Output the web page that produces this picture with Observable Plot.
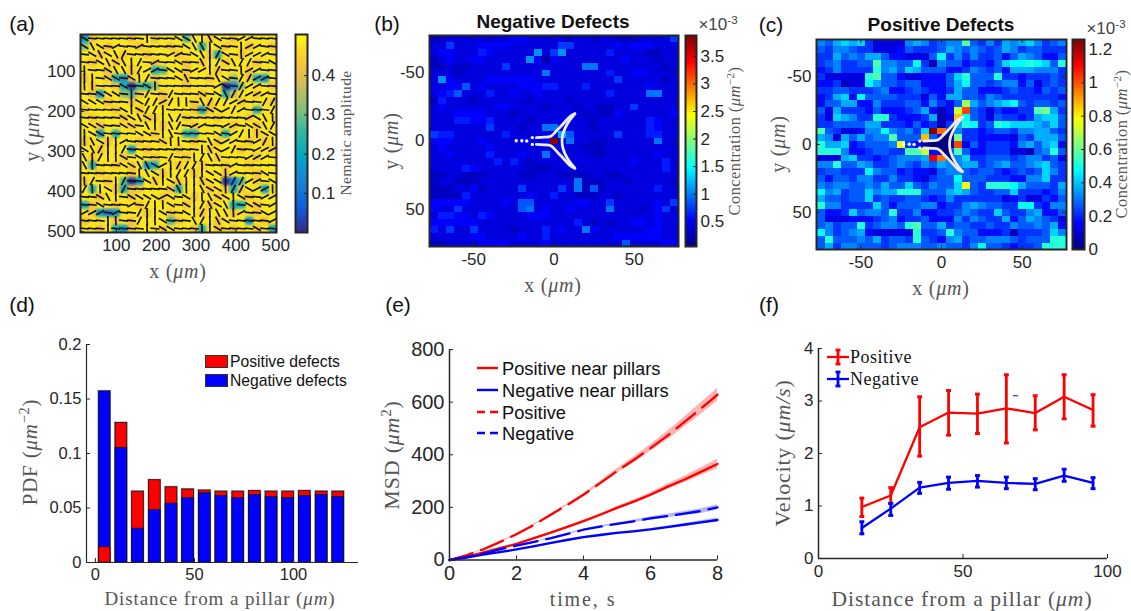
<!DOCTYPE html>
<html><head><meta charset="utf-8">
<script src="https://cdn.jsdelivr.net/npm/d3@7"></script>
<script src="https://cdn.jsdelivr.net/npm/@observablehq/plot@0.6"></script>
<style>
html,body{margin:0;background:#fff}
#page{position:relative;width:1131px;height:611px;overflow:hidden;font-family:"Liberation Sans",Arial,sans-serif}
#page svg{position:absolute;overflow:visible;background:transparent;max-width:none}
.t{position:absolute;white-space:nowrap;line-height:.8;transform:translate(-50%,-50%)}
.t.v{transform:translate(-50%,-50%) rotate(-90deg)}
.s{font-family:"Liberation Serif",serif;color:#555}
.t sup{font-size:.68em;line-height:0}
.k{position:absolute;white-space:nowrap;line-height:1;color:#111}
</style></head><body><div id="page"></div>
<script>
// ---------- panel (a): nematic amplitude (digit d -> 0.02 + 0.051 d) ----------
const ampRows = [
"38999 98998 99959 98998 99999","69989 99899 98999 49989 98998","99899 89989 99899 98499 89999",
"98998 99998 99989 89989 99899","99989 98994 59989 99899 98999","89984 38998 99989 98996 98439",
"98998 40546 99989 99902 69998","98399 65899 89999 89947 99899","99989 98999 89998 98999 89998",
"89998 99899 99998 38999 99499","98999 89988 99989 99899 98999","99899 98999 89998 99998 99899",
"99394 99998 99944 99949 99899","89989 99899 89998 99899 98989","99899 93989 99899 98999 89998",
"98999 89998 99989 99899 99899","94998 98934 99899 89989 98999","99899 98999 89998 99989 99899",
"89989 50398 99899 89902 59899","94998 48899 98499 98984 89939","99899 98999 89998 99899 98999",
"48998 99899 99989 98994 49899","98323 99989 98999 89998 99899","89998 98999 95899 99899 93989",
"99894 38999 89998 49898 99894"];
// director orientation: h flat, d down-right, s steep down-right, v vertical, u steep up-right, r up-right
const dirRows = [
"dhhhhhhhvhhhddsvsdhhrrhhh","dsdhrhhrhhhhhdssvdhhvrrhh","hdsdsuhhhhhrrhdsvudhvrrrh","hhdsdsvuhrhhdhhsvudsuuhhd",
"vhhdssvurrhddhrrvuhhvrrhh","vvhddhdvuhhhdshhhsdhuurrh","vvhhhdhhdvhhhhhhhrdhurrhh","hhdddhvhuhhuhhhdhdsuurrrh",
"dddhhhvduuruvvhsuuurrhhuu","hhhhhdvduuvhhhhhddrurhhhu","hhhhhddsdvvsuhhhhhhhhrdsv","dddhhddhsvvsuhrrhhrrhddsu",
"vddhhhhddhvshhhhhdhruvvdd","vsdvvrhhhhdvvhhhsdrrhhruv","dsuvvuhhhhhhhhhvsdruhhrrr","svuvvdhdhhhuhhvusshhhrrrh",
"svhhhddssdrvuuuvhhhrhhhhh","hhhhhhhvsdvvuuvvddvrhhhdh","vuhhvuhhdsvdsvvsddvuurrhd","uvvdvuhhhhhdsvvsddvuudrrv",
"hhdsvhddddrdhdvvsddvdhhrr","hhdhhhrhuvvdhdvusdsvhddhr","rrrhrhhuvvdhhdvuvssvrhhdr","hhhvvhhuvvdhhhsuvsdhhhhhr",
"hhhvhhhhvhddhhhvvdhhhhdhh"];
const dirAngle = {h:6,d:30,s:62,v:88,u:118,r:152};
const aDomainX=[10,502], aDomainY=[8,502];
// ---------- panel (b) negative defects, base-36 char * 0.11 + 0.08 (x 1e-3 um^-2) ----------
const negRows = [
"22333 33233 44333 33233 23322 23333 6","33633 34444 33333 36633 33343 44433 3","34433 35433 33393 69333 33533 33223 3",
"23433 44333 33941 43333 33334 33323 3","22322 33336 33333 33338 83333 33332 3","33323 33333 33338 33333 33533 44333 3",
"39433 33444 44433 33333 33363 33332 3","33447 34333 34445 53335 33333 33433 3","34573 33533 43343 33333 33533 33883 3",
"25333 23333 33233 33233 33333 33333 3","34333 33344 33332 33323 32233 63333 3","33344 44333 23333 33332 32243 33333 4",
"33355 44533 33233 33333 23333 33543 3","33333 33633 32338 83333 23333 33543 3","65533 33335 33333 3a733 33363 33553 3",
"44433 34333 33444 z3833 22333 33383 3","34333 33433 33333 33332 22333 33333 3","33433 33533 34338 33333 22333 33343 3",
"33333 33353 53233 33333 33333 43335 3","33335 43333 33222 33333 33333 33335 3","22332 22333 32233 32222 33223 33333 3",
"23322 23333 33333 33382 22332 33333 2","22233 42333 36333 36382 72333 33353 3","22225 33333 33433 53322 23323 33333 3",
"44444 33334 37733 33344 33633 33343 6","43363 33333 37834 33433 33833 32346 3","35544 35433 33444 33333 33333 33343 3",
"44444 43333 33333 33353 23233 44343 3","53633 63333 23335 34338 43333 33443 3","33333 44333 34335 33333 33344 44443 3",
"22333 34444 33334 33333 33337 33334 4"];
// ---------- panel (c) positive defects, base-36 char * 0.05 + 0.02 (x 1e-3 um^-2) ----------
const posRows = [
"65787 84222 26764 566b5 46476 78645 6","54665 44222 35444 57656 54576 45544 4","44756 57753 32225 94646 44535 76533 5",
"45644 55b66 55941 65534 43589 9a985 a","34644 44a67 58755 53346 54537 77666 4","42222 2ab55 32233 358a5 55a44 34445 4",
"33412 29755 45533 35795 54566 35245 4","44554 44563 34543 34755 33345 44354 5","34783 95555 44425 37755 46544 44444 3",
"35577 33644 45536 435d7 56789 54554 5","52744 43533 34573 13ek5 42433 44bc7 4","42876 44aa4 33347 12h95 42544 34788 5",
"44555 57744 43534 147a9 45a98 88768 5","b5422 36696 5648p j5644 34554 66775 4","76275 7566b 555h5 31c44 33332 54777 5",
"a7783 45556 f4322 21k25 34443 67578 3","aaa63 34554 4bbe3 35b53 34442 2156a 5","22278 44345 6667m j6684 45554 56645 2",
"66a55 76445 65465 76677 45675 56785 4","45544 49655 34332 56654 55434 54586 4","53554 66446 44324 55955 54443 36684 4",
"65665 56575 58546 558f5 4aaa9 75554 7","96745 58677 aaa55 57875 44558 44434 6","75545 58454 45543 46444 44423 42243 5",
"a6644 44853 55566 34467 65544 99436 6","53348 5665a 44633 44565 44854 46733 5","52223 33456 34453 33646 54473 57654 2",
"56455 a4566 5ab55 74554 45446 55657 3","96456 73222 22a44 5a655 33341 44458 6","5a555 65745 54a54 36745 56665 4555a a",
"57466 55545 66655 65546 95543 445aa a"];
// pillar outline (um)
const armUpX=[-11,-6,-2,2,6,10.5,13], armUpY=[-2.5,-2.8,-3.5,-8,-13,-18.5,-20];
const armLoX=[-11,-6,-2,2,6,10.5,13], armLoY=[2.5,2.8,3.5,8,13,18.5,20];
const armRiX=[13,8.5,5.5,5,5.5,8.5,13], armRiY=[-20,-13,-5,0,5,13,20];
const dotX=[-23.5,-20,-17,-13.5,-13.5], dotY=[-0.2,-0.2,0,-2.5,2.5];
// ---------- panel (d) ----------
const binCenters=[4.7,13.1,21.5,30,38.4,46.8,55.2,63.6,72.1,80.5,88.9,97.3,105.7,114.2,122.6];
const pdfNeg=[.157,.105,.031,.048,.054,.059,.0635,.061,.059,.062,.060,.059,.061,.062,.060];
const pdfPos=[.014,.128,.065,.0755,.069,.067,.066,.065,.065,.0655,.065,.065,.0655,.065,.065];
// ---------- panel (e) ----------
const tMSD=[0,.5,1,1.5,2,2.5,3,3.5,4,4.5,5,5.5,6,6.5,7,7.5,8];
const msdPos=[0,18,40,68,98,132,170,208,248,292,338,380,425,472,523,575,628];
const msdPosNear=[0,12,28,45,61,82,103,125,148,172,198,222,248,278,305,335,365];
const msdNeg=[0,11,24,40,55,68,82,98,115,127,137,147,158,167,176,186,200];
const msdNegNear=[0,9,20,30,40,52,64,76,87,95,103,109,116,125,134,143,152];
const errPos=[0,1,2,2,3,3,4,4,5,7,9,11,13,16,19,22,25];
const errPosNear=[0,1,1,1,2,2,2,3,3,4,5,6,8,10,12,15,18];
const errNeg=[0,1,1,1,2,2,2,3,3,3,4,5,6,7,8,9,10];
const errNegNear=[0,1,1,1,1,1,2,2,2,3,3,3,4,4,5,6,8];
// ---------- panel (f) ----------
const dVel=[15,25,35,45,55,65,75,85,95];
const velPos=[.98,1.2,2.5,2.78,2.76,2.86,2.77,3.08,2.83];
const velPosLo=[.8,1.05,1.95,2.35,2.38,2.2,2.45,2.66,2.52];
const velPosHi=[1.15,1.35,3.08,3.2,3.13,3.5,3.1,3.5,3.12];
const velNeg=[.58,.95,1.35,1.44,1.48,1.44,1.42,1.58,1.44];
const velNegLo=[.47,.82,1.24,1.32,1.36,1.33,1.31,1.47,1.33];
const velNegHi=[.7,1.05,1.45,1.55,1.58,1.55,1.52,1.7,1.54];

// ---------- colour maps ----------
const parula=["#352a87","#0f5cdd","#1481d6","#06a4ca","#2eb7a4","#87bf77","#d1bb59","#fec832","#f9fb0e"];
const jetPos=[0,.125,.375,.625,.875,1], jetCol=["#000080","#0000ff","#00ffff","#ffff00","#ff0000","#800000"];
const dark="#262626";
const page=document.getElementById("page");
const flat=(rows,f)=>rows.flatMap(r=>[...r.replace(/ /g,"")].map(f));
const cs=(lo,hi,pos,col)=>({type:"linear",domain:pos.map(p=>lo+(hi-lo)*p),range:col,clamp:true});
const parulaPos=parula.map((_,i)=>i/(parula.length-1));

function panel(box,opt,marks){
  const m={l:62,r:62,t:12,b:30};
  const svg=Plot.plot({width:box.r-box.l+m.l+m.r,height:box.b-box.t+m.t+m.b,
    marginLeft:m.l,marginRight:m.r,marginTop:m.t,marginBottom:m.b,
    style:{fontFamily:'"Liberation Sans",Arial,sans-serif',background:"transparent",overflow:"visible"},
    ...opt,marks});
  svg.style.left=(box.l-m.l)+"px"; svg.style.top=(box.t-m.t)+"px";
  page.appendChild(svg);
}
function axX(ticks,fs,pad,h,w=1,both=false,fmt=String){
  return [Plot.axisX(ticks,{anchor:"bottom",tickSize:0,tickPadding:pad,fontSize:fs,color:dark,label:null,tickFormat:fmt}),
    Plot.tickX(ticks,{x:d=>d,insetTop:h-4,stroke:dark,strokeWidth:w}),
    ...(both?[Plot.tickX(ticks,{x:d=>d,insetBottom:h-4,stroke:dark,strokeWidth:w})]:[])];
}
function axY(ticks,fs,pad,w0,w=1,both=false,anchor="left"){
  return [Plot.axisY(ticks,{anchor,tickSize:0,tickPadding:pad,fontSize:fs,color:dark,label:null,tickFormat:String}),
    ...(anchor==="left"?[Plot.tickY(ticks,{y:d=>d,insetRight:w0-4,stroke:dark,strokeWidth:w})]:[Plot.tickY(ticks,{y:d=>d,insetLeft:w0-3,stroke:dark,strokeWidth:w})]),
    ...(both?[Plot.tickY(ticks,{y:d=>d,insetLeft:w0-4,stroke:dark,strokeWidth:w})]:[])];
}
function txt(html,x,y,o={}){
  const e=document.createElement("div");
  e.className="t"+(o.v?" v":"")+(o.serif?" s":"");
  e.innerHTML=html;e.style.left=x+"px";e.style.top=y+"px";e.style.fontSize=o.size+"px";
  if(o.ls)e.style.letterSpacing=o.ls+"px";
  if(o.bold)e.style.fontWeight="bold";
  if(o.color)e.style.color=o.color;
  page.appendChild(e);
}
function colorbar(box,dom,color,ticks,fs){
  panel(box,{x:{domain:[0,1],axis:null},y:{domain:dom},color},[
    Plot.raster({x1:0,x2:1,y1:dom[0],y2:dom[1],fill:(x,y)=>y,pixelSize:1}),
    Plot.frame({stroke:dark,strokeWidth:2}),
    ...axY(ticks,fs,4,box.r-box.l,1,false,"right")
  ]);
}

// (a)
const aBox={l:80,r:276,t:34,b:232};
const cw=(aDomainX[1]-aDomainX[0])/25, ch=(aDomainY[1]-aDomainY[0])/25, half=11.5;
const segs=dirRows.flatMap((row,r)=>[...row].map((c,k)=>{
  const a=dirAngle[c]*Math.PI/180, cx=aDomainX[0]+(k+.5)*cw, cy=aDomainY[0]+(r+.5)*ch;
  return {x1:cx-half*Math.cos(a),x2:cx+half*Math.cos(a),y1:cy-half*Math.sin(a),y2:cy+half*Math.sin(a)};
}));
const aColor=cs(0,.505,parulaPos,parula);
// each estimated cell is drawn as 2x2 raster pixels so that low-amplitude spots stay small when smoothed
const ampDoubled=ampRows.flatMap(r=>{const s=[...r.replace(/ /g,"")].flatMap(c=>[c,c]).join("");return [s,s];});
panel(aBox,{x:{domain:aDomainX},y:{domain:aDomainY,reverse:true},color:aColor},[
  Plot.raster(flat(ampDoubled,c=>.02+.051*+c),{width:50,height:50,x1:aDomainX[0],x2:aDomainX[1],y1:aDomainY[0],y2:aDomainY[1]}),
  Plot.link(segs,{x1:"x1",x2:"x2",y1:"y1",y2:"y2",stroke:"#111",strokeWidth:1.7}),
  Plot.frame({stroke:dark,strokeWidth:2}),
  ...axX([100,200,300,400,500],17,6,198,1),
  ...axY([100,200,300,400,500],17,5,196,1)
]);
colorbar({l:295,r:307,t:34,b:232},[0,.505],aColor,[.1,.2,.3,.4],17);
txt("x (<i>μm</i>)",178,271,{serif:1,size:20,ls:.8});
txt("y (<i>μm</i>)",32,133,{serif:1,size:20,ls:.8,v:1});
txt("Nematic amplitude",346,133,{serif:1,size:15.5,ls:.4,v:1});

// shared star marks
function star(fill){
  const up=armUpX.map((x,i)=>({x,y:armUpY[i],k:"u"})), lo=armLoX.map((x,i)=>({x,y:armLoY[i],k:"l"})), ri=armRiX.map((x,i)=>({x,y:armRiY[i],k:"r"}));
  const poly=[...up,...ri,...lo.slice().reverse()];
  return [
    ...(fill?[Plot.line(poly,{x:"x",y:"y",fill,stroke:null})]:[]),
    Plot.line([...up,...lo,...ri],{x:"x",y:"y",z:"k",curve:"catmull-rom",stroke:"#ececec",strokeWidth:2.8}),
    Plot.dot(dotX.map((x,i)=>({x,y:dotY[i]})),{x:"x",y:"y",r:1.7,fill:"#f4f4f4",stroke:null})
  ];
}
function defectMap(box,rows,unit,off,cbBox,cbTicks,starFill,cbDom){
  const col=cs(cbDom[0],cbDom[1],jetPos,jetCol);
  panel(box,{x:{domain:[-77.5,77.5]},y:{domain:[-77.5,77.5],reverse:true},color:col},[
    Plot.raster(flat(rows,c=>parseInt(c,36)*unit+off),{width:31,height:31,x1:-77.5,x2:77.5,y1:-77.5,y2:77.5,imageRendering:"pixelated"}),
    ...star(starFill),
    Plot.frame({stroke:dark,strokeWidth:2}),
    ...axX([-50,0,50],17,6,box.b-box.t,1,true),
    ...axY([-50,0,50],17,5,box.r-box.l,1,true)
  ]);
  colorbar(cbBox,cbDom,col,cbTicks,17);
}
// (b)
defectMap({l:429,r:678,t:35,b:246},negRows,.11,.08,{l:685,r:696,t:35,b:246},[.5,1,1.5,2,2.5,3,3.5],null,[.05,3.88]);
txt("Negative Defects",553,22,{bold:1,size:19,color:"#111"});
txt("x (<i>μm</i>)",553,285,{serif:1,size:20,ls:.8});
txt("y (<i>μm</i>)",391,141,{serif:1,size:20,ls:.8,v:1});
txt("Concentration (<i>μm</i><sup>−2</sup>)",735,141,{serif:1,size:16.5,ls:.4,v:1});
txt("×10<sup>-3</sup>",718,25,{size:17,color:"#444"});
// (c)
defectMap({l:816,r:1066,t:39,b:249},posRows,.05,.02,{l:1072,r:1084,t:39,b:249},[0,.2,.4,.6,.8,1,1.2],"#00007f",[0,1.26]);
txt("Positive Defects",941,25,{bold:1,size:19,color:"#111"});
txt("x (<i>μm</i>)",941,288,{serif:1,size:20,ls:.8});
txt("y (<i>μm</i>)",778,144,{serif:1,size:20,ls:.8,v:1});
txt("Concentration (<i>μm</i><sup>−2</sup>)",1122,144,{serif:1,size:16.5,ls:.4,v:1});
txt("×10<sup>-3</sup>",1106,29,{size:17,color:"#444"});

// (d)
const bars=binCenters.map((c,i)=>({x1:c-2.95,x2:c+2.95,neg:pdfNeg[i],pos:pdfPos[i]}));
const dBox={l:86,r:358,t:344,b:562};
const rect=(f,fill,o={})=>Plot.rect(bars.filter(f),{x1:"x1",x2:"x2",y1:0,y2:o.k,fill,stroke:"#111",strokeWidth:.8});
panel(dBox,{x:{domain:[-4.5,132.8]},y:{domain:[0,.2]}},[
  Plot.rect(bars,{x1:"x1",x2:"x2",y1:0,y2:d=>Math.max(d.neg,d.pos),fill:"none",stroke:"#aaa",strokeWidth:2}),
  rect(d=>d.pos>d.neg,"#ff0000",{k:"pos"}),
  rect(()=>true,"#0000ff",{k:"neg"}),
  rect(d=>d.pos<d.neg,"#ff0000",{k:"pos"}),
  Plot.ruleY([0],{stroke:dark,strokeWidth:1.2}),Plot.ruleX([-4.5],{stroke:dark,strokeWidth:1.2}),
  ...axX([0,50,100],16.5,6,218,1),
  ...axY([0,.05,.1,.15,.2],16.5,5,272,1)
]);
txt("PDF (<i>μm</i><sup>−2</sup>)",30,452,{serif:1,size:21,ls:.8,v:1});
txt("Distance from a pillar (<i>μm</i>)",220,599,{serif:1,size:19,ls:.9});
function lg(html,x,y,size,serif,ls){const e=document.createElement("div");e.className="k"+(serif?" s":"");
  e.innerHTML=html;e.style.left=x+"px";e.style.top=y+"px";e.style.fontSize=size+"px";if(ls)e.style.letterSpacing=ls+"px";e.style.transform="translateY(-50%)";page.appendChild(e);}
function sw(x,y,w,h,col){const e=document.createElement("div");
  e.style.cssText=`position:absolute;left:${x}px;top:${y}px;width:${w}px;height:${h}px;background:${col};border:1px solid #333;box-sizing:border-box`;page.appendChild(e);}
sw(205,355,23,13,"#ff0000");sw(205,374,23,13,"#0000ff");
lg("Positive defects",230,362,15.7);lg("Negative defects",230,381,15.7);

// (e)
const ser=tMSD.map((t,i)=>({t,pos:msdPos[i],posN:msdPosNear[i],neg:msdNeg[i],negN:msdNegNear[i],
  ep:errPos[i],epN:errPosNear[i],en:errNeg[i],enN:errNegNear[i]}));
const band=(k,e,c)=>Plot.areaY(ser,{x:"t",y1:d=>d[k]-d[e],y2:d=>d[k]+d[e],fill:c});
const eBox={l:449,r:717,t:349,b:559.5};
panel(eBox,{x:{domain:[0,8]},y:{domain:[0,800]}},[
  band("pos","ep","#ffb3b3"),band("posN","epN","#ffb3b3"),band("neg","en","#b8b8ff"),band("negN","enN","#b8b8ff"),
  Plot.line(ser,{x:"t",y:"posN",stroke:"#ff0000",strokeWidth:2.3}),
  Plot.line(ser,{x:"t",y:"negN",stroke:"#0000ff",strokeWidth:2.3}),
  Plot.line(ser,{x:"t",y:"pos",stroke:"#ff0000",strokeWidth:2.3,strokeDasharray:"24,9"}),
  Plot.line(ser,{x:"t",y:"neg",stroke:"#0000ff",strokeWidth:2.3,strokeDasharray:"24,9"}),
  Plot.ruleY([0],{stroke:dark,strokeWidth:1.5}),Plot.ruleX([0],{stroke:dark,strokeWidth:1.5}),
  ...axX([0,2,4,6,8],20,6,210.5,1),
  ...axY([0,200,400,600,800],20,5,268,1)
]);
txt("MSD (<i>μm</i><sup>2</sup>)",392,455,{serif:1,size:22,ls:.8,v:1});
txt("time, s",583,599,{serif:1,size:20,ls:1.9});
function ln(y,col,dash){const s=document.createElementNS("http://www.w3.org/2000/svg","svg");
  s.setAttribute("width",21);s.setAttribute("height",6);s.style.left="477px";s.style.top=(y-3)+"px";
  s.innerHTML=`<line x1="0" x2="21" y1="3" y2="3" stroke="${col}" stroke-width="2.4" ${dash?'stroke-dasharray="8,5"':""}/>`;page.appendChild(s);}
[["Positive near pillars",368,"#ff0000",0],["Negative near pillars",390,"#0000ff",0],["Positive",412,"#ff0000",1],["Negative",433,"#0000ff",1]]
 .forEach(([n,y,c,d])=>{ln(y,c,d);lg(n,502,y+1,18.3);});

// (f)
const vp=dVel.map((x,i)=>({x,y:velPos[i],lo:velPosLo[i],hi:velPosHi[i]}));
const vn=dVel.map((x,i)=>({x,y:velNeg[i],lo:velNegLo[i],hi:velNegHi[i]}));
const err=(v,c)=>[
  Plot.ruleX(v,{x:"x",y1:"lo",y2:"hi",stroke:c,strokeWidth:2.8}),
  Plot.link(v,{x1:d=>d.x-.85,x2:d=>d.x+.85,y1:"lo",y2:"lo",stroke:c,strokeWidth:3}),
  Plot.link(v,{x1:d=>d.x-.85,x2:d=>d.x+.85,y1:"hi",y2:"hi",stroke:c,strokeWidth:3}),
  Plot.line(v,{x:"x",y:"y",stroke:c,strokeWidth:2.3})];
const strayMark=[{x1:67.3,x2:69,y:3.1}];
panel({l:818,r:1107,t:348,b:558},{x:{domain:[0,100]},y:{domain:[0,4]}},[
  ...err(vp,"#ff0000"),...err(vn,"#0000ff"),
  Plot.link(strayMark,{x1:"x1",x2:"x2",y1:"y",y2:"y",stroke:"#0000ff",strokeWidth:1}),
  Plot.ruleY([0],{stroke:dark,strokeWidth:1.5}),Plot.ruleX([0],{stroke:dark,strokeWidth:1.5}),
  ...axX([0,50,100],17,6,210,1),
  ...axY([0,1,2,3,4],17,5,289,1)
]);
txt("Velocity (<i>μm/s</i>)",783,453,{serif:1,size:22,ls:.8,v:1});
txt("Distance from a pillar (<i>μm</i>)",962,600,{serif:1,size:21.5,ls:1});
function lf(y,col){const s=document.createElementNS("http://www.w3.org/2000/svg","svg");
  s.setAttribute("width",22);s.setAttribute("height",16);s.style.left="827px";s.style.top=(y-8)+"px";
  s.innerHTML=`<line x1="0" x2="22" y1="8" y2="8" stroke="${col}" stroke-width="2.3"/><line x1="11" x2="11" y1="1" y2="15" stroke="${col}" stroke-width="2.8"/><line x1="8.5" x2="13.5" y1="1" y2="1" stroke="${col}" stroke-width="2.8"/><line x1="8.5" x2="13.5" y1="15" y2="15" stroke="${col}" stroke-width="2.8"/>`;page.appendChild(s);}
lf(357,"#ff0000");lf(379,"#0000ff");
lg("Positive",850,357,18,1,.5);lg("Negative",850,379,18,1,.5);

// panel letters
[["(a)",22,24],["(b)",387,24],["(c)",771,25],["(d)",22,305],["(e)",398,305],["(f)",769,305]]
 .forEach(([s,x,y])=>txt(s,x,y,{size:21,color:"#111"}));
</script></body></html>
